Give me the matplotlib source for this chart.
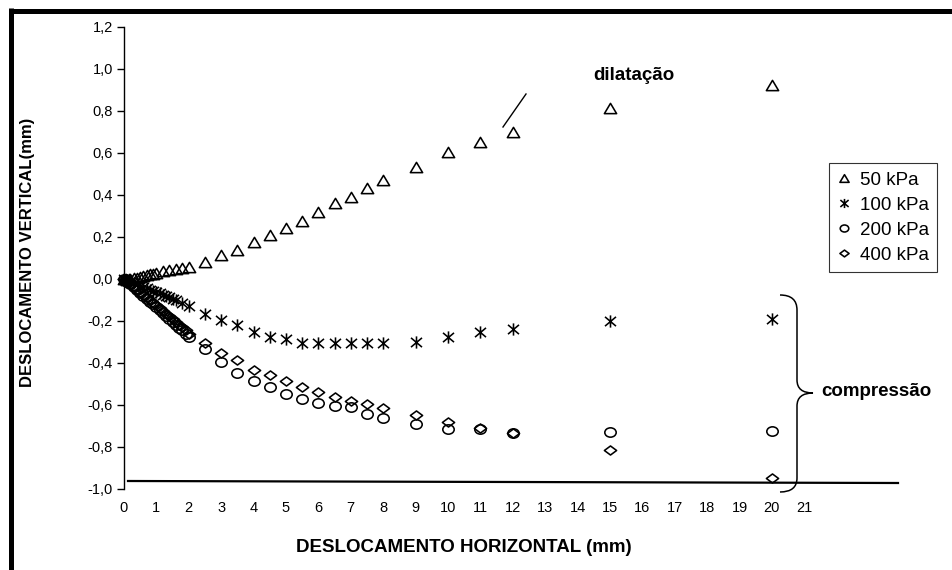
import matplotlib
matplotlib.use('Agg')
import matplotlib.pyplot as plt
from matplotlib.path import Path
from matplotlib.patches import PathPatch
from matplotlib.lines import Line2D

# ---------------- data ----------------
series_labels = ['50 kPa', '100 kPa', '200 kPa', '400 kPa']

x_50 = [0, 0.05, 0.1, 0.15, 0.2, 0.3, 0.4, 0.5, 0.6, 0.7, 0.8, 0.9, 1.0, 1.2, 1.4, 1.6, 1.8, 2.0,
        2.5, 3.0, 3.5, 4.0, 4.5, 5.0, 5.5, 6.0, 6.5, 7.0, 7.5, 8.0, 9.0, 10.0, 11.0, 12.0, 15.0, 20.0]
y_50 = [0.0, -0.002, -0.003, -0.002, 0.0, 0.003, 0.006, 0.01, 0.014, 0.018, 0.022, 0.026, 0.03,
        0.036, 0.042, 0.048, 0.053, 0.059, 0.082, 0.112, 0.138, 0.175, 0.208, 0.241, 0.276, 0.318,
        0.36, 0.392, 0.435, 0.471, 0.535, 0.605, 0.652, 0.701, 0.814, 0.924]

x_100 = [0, 0.05, 0.1, 0.2, 0.3, 0.4, 0.5, 0.6, 0.7, 0.8, 0.9, 1.0, 1.1, 1.2, 1.3, 1.4, 1.5, 1.6,
         1.8, 2.0, 2.5, 3.0, 3.5, 4.0, 4.5, 5.0, 5.5, 6.0, 6.5, 7.0, 7.5, 8.0, 9.0, 10.0, 11.0,
         12.0, 15.0, 20.0]
y_100 = [0.0, -0.003, -0.006, -0.012, -0.018, -0.025, -0.031, -0.038, -0.044, -0.05, -0.056,
         -0.062, -0.068, -0.075, -0.081, -0.088, -0.094, -0.1, -0.114, -0.13, -0.167, -0.195,
         -0.219, -0.251, -0.275, -0.287, -0.303, -0.306, -0.306, -0.306, -0.306, -0.303, -0.298,
         -0.275, -0.251, -0.24, -0.2, -0.192]

x_200 = [0, 0.05, 0.1, 0.2, 0.3, 0.4, 0.5, 0.6, 0.7, 0.8, 0.9, 1.0, 1.1, 1.2, 1.3, 1.4, 1.5, 1.6,
         1.7, 1.8, 1.9, 2.0, 2.5, 3.0, 3.5, 4.0, 4.5, 5.0, 5.5, 6.0, 6.5, 7.0, 7.5, 8.0, 9.0, 10.0,
         11.0, 12.0, 15.0, 20.0]
y_200 = [0.0, -0.006, -0.012, -0.025, -0.038, -0.052, -0.066, -0.08, -0.094, -0.108, -0.121,
         -0.135, -0.148, -0.162, -0.176, -0.19, -0.204, -0.218, -0.232, -0.245, -0.26, -0.275,
         -0.335, -0.394, -0.449, -0.486, -0.516, -0.548, -0.571, -0.589, -0.605, -0.611, -0.643,
         -0.66, -0.69, -0.716, -0.716, -0.735, -0.73, -0.724]

x_400 = [0, 0.05, 0.1, 0.2, 0.3, 0.4, 0.5, 0.6, 0.7, 0.8, 0.9, 1.0, 1.1, 1.2, 1.3, 1.4, 1.5, 1.6,
         1.7, 1.8, 1.9, 2.0, 2.5, 3.0, 3.5, 4.0, 4.5, 5.0, 5.5, 6.0, 6.5, 7.0, 7.5, 8.0, 9.0, 10.0,
         11.0, 12.0, 15.0, 20.0]
y_400 = [0.0, -0.005, -0.011, -0.023, -0.035, -0.048, -0.061, -0.074, -0.087, -0.1, -0.113,
         -0.126, -0.139, -0.152, -0.165, -0.178, -0.191, -0.204, -0.217, -0.23, -0.244, -0.262,
         -0.306, -0.354, -0.386, -0.433, -0.457, -0.486, -0.516, -0.537, -0.56, -0.579, -0.595,
         -0.616, -0.648, -0.679, -0.711, -0.735, -0.814, -0.949]

x_ticks = list(range(0, 22))
x_tick_labels = [str(v) for v in x_ticks]
y_ticks = [-1.0, -0.8, -0.6, -0.4, -0.2, 0.0, 0.2, 0.4, 0.6, 0.8, 1.0, 1.2]
y_tick_labels = ['-1,0', '-0,8', '-0,6', '-0,4', '-0,2', '0,0', '0,2', '0,4', '0,6', '0,8',
                 '1,0', '1,2']

x_title = 'DESLOCAMENTO HORIZONTAL (mm)'
y_title = 'DESLOCAMENTO VERTICAL(mm)'
note_up = 'dilatação'
note_down = 'compressão'

# ---------------- style ----------------
plt.rcParams['font.family'] = ['Liberation Sans', 'DejaVu Sans']

W, H = 953, 570
fig = plt.figure(figsize=(W / 100, H / 100), dpi=100)
fig.patch.set_facecolor('white')


def fx(px):
    return px / W


def fy(py):
    return 1 - py / H


ax = fig.add_axes([fx(124), fy(489), 784 / W, (489 - 27) / H])
ax.set_xlim(0, 24.2)
ax.set_ylim(-1.0, 1.2)
ax.patch.set_alpha(0)

# custom (slightly wide) marker shapes
tri = Path([(0, 0.42), (-0.5, -0.42), (0.5, -0.42), (0, 0.42)],
           [Path.MOVETO, Path.LINETO, Path.LINETO, Path.CLOSEPOLY])
ast = Path([(0, -0.5), (0, 0.5), (-0.45, -0.38), (0.45, 0.38), (-0.45, 0.38), (0.45, -0.38)],
           [Path.MOVETO, Path.LINETO, Path.MOVETO, Path.LINETO, Path.MOVETO, Path.LINETO])
circ = Path.unit_circle()
circ = Path(circ.vertices * [0.5, 0.41], circ.codes)
dia = Path([(0, 0.37), (-0.5, 0), (0, -0.37), (0.5, 0), (0, 0.37)],
           [Path.MOVETO, Path.LINETO, Path.LINETO, Path.LINETO, Path.CLOSEPOLY])

styles = [(tri, 8.8), (ast, 8.8), (circ, 8.2), (dia, 8.8)]
xs = [x_50, x_100, x_200, x_400]
ys = [y_50, y_100, y_200, y_400]
handles = []
for xv, yv, lab, (mk, ms) in zip(xs, ys, series_labels, styles):
    h, = ax.plot(xv, yv, linestyle='none', marker=mk, markersize=ms,
                 markerfacecolor='none', markeredgecolor='black', markeredgewidth=1.15,
                 label=lab, clip_on=False)
    handles.append(h)

for s in ['top', 'right', 'bottom']:
    ax.spines[s].set_visible(False)
ax.spines['left'].set_linewidth(1.0)

ax.set_xticks(x_ticks)
ax.set_xticklabels(x_tick_labels)
ax.set_yticks(y_ticks)
ax.set_yticklabels(y_tick_labels)
ax.tick_params(axis='y', direction='out', length=5, width=1, pad=3, labelsize=10.5)
ax.tick_params(axis='x', length=0, pad=9, labelsize=10.5)

leg = ax.legend(handles=handles, loc='upper left', bbox_to_anchor=(fx(829), fy(163)),
                bbox_transform=fig.transFigure, frameon=True, fancybox=False,
                edgecolor='black', borderaxespad=0, handlelength=0.7, handletextpad=0.5,
                borderpad=0.45, labelspacing=0.42, prop={'size': 13.5}, markerscale=0.75)
leg.get_frame().set_linewidth(0.8)

# baseline drawn across the plot
fig.add_artist(Line2D([fx(128), fx(898)], [fy(481), fy(483)], transform=fig.transFigure,
                      color='black', lw=1.6))

# outer frame (left + top)
fig.add_artist(Line2D([fx(11.5), fx(11.5)], [fy(8), 0], transform=fig.transFigure,
                      color='black', lw=3.6, solid_capstyle='butt'))
fig.add_artist(Line2D([fx(9), 1], [fy(10.5), fy(10.5)], transform=fig.transFigure,
                      color='black', lw=3.6, solid_capstyle='butt'))

# dilatação pointer
fig.add_artist(Line2D([fx(503), fx(526)], [fy(127), fy(94)], transform=fig.transFigure,
                      color='black', lw=1.0))
fig.text(fx(634), fy(76), note_up, ha='center', va='center', fontweight='bold', fontsize=13.5)

# brace for compressão
bv = [(780, 295), (797, 295), (797, 310), (797, 380), (797, 393), (813, 393),
      (797, 393), (797, 406), (797, 478), (797, 492), (780, 492)]
bc = [Path.MOVETO, Path.CURVE3, Path.CURVE3, Path.LINETO, Path.CURVE3, Path.CURVE3,
      Path.CURVE3, Path.CURVE3, Path.LINETO, Path.CURVE3, Path.CURVE3]
brace = Path([(fx(a), fy(b)) for a, b in bv], bc)
fig.add_artist(PathPatch(brace, fill=False, lw=1.1, edgecolor='black',
                         transform=fig.transFigure))
fig.text(fx(821), fy(392), note_down, ha='left', va='center', fontweight='bold', fontsize=13.5)

# axis titles
fig.text(fx(464), fy(548), x_title, ha='center', va='center', fontweight='bold', fontsize=13.5)
fig.text(fx(28), fy(252), y_title, ha='center', va='center', rotation=90,
         fontweight='bold', fontsize=12)

fig.savefig('out.png', dpi=100, facecolor='white')
